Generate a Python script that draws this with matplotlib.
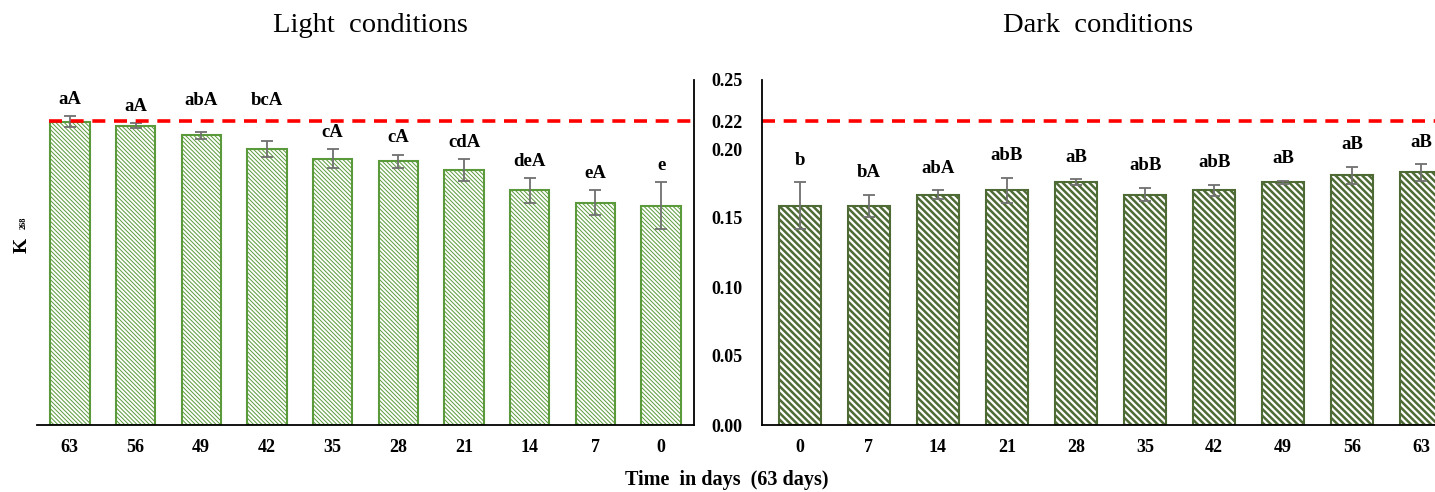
import matplotlib.pyplot as plt
import numpy as np

plt.rcParams['font.family'] = ['Liberation Serif', 'DejaVu Serif']

# Light conditions (days shown in reverse order)
light_days = ['63', '56', '49', '42', '35', '28', '21', '14', '7', '0']
light_k268 = [0.2196, 0.2170, 0.2100, 0.2000, 0.1930, 0.1910, 0.1850, 0.1700, 0.1610, 0.1590]
light_err = [0.004, 0.002, 0.0025, 0.006, 0.007, 0.005, 0.008, 0.009, 0.009, 0.017]
light_letters = ['aA', 'aA', 'abA', 'bcA', 'cA', 'cA', 'cdA', 'deA', 'eA', 'e']

# Dark conditions
dark_days = ['0', '7', '14', '21', '28', '35', '42', '49', '56', '63']
dark_k268 = [0.1590, 0.1590, 0.1670, 0.1700, 0.1760, 0.1670, 0.1700, 0.1760, 0.1810, 0.1830]
dark_err = [0.017, 0.008, 0.003, 0.009, 0.002, 0.005, 0.004, 0.001, 0.006, 0.006]
dark_letters = ['b', 'bA', 'abA', 'abB', 'aB', 'abB', 'abB', 'aB', 'aB', 'aB']

limit = 0.22
yticks = [0.00, 0.05, 0.10, 0.15, 0.20, 0.22, 0.25]

fig = plt.figure(figsize=(14.35, 4.92), dpi=100)
ax1 = fig.add_axes([37 / 1435, 67 / 492, 657 / 1435, 345 / 492])
ax2 = fig.add_axes([762 / 1435, 67 / 492, 673 / 1435, 345 / 492])


def draw_panel(ax, days, vals, errs, letters, color, hatch, hlw, gap):
    x = np.arange(len(days))
    bars = ax.bar(x, vals, width=0.6, color='white', edgecolor=color,
                  hatch=hatch, linewidth=1.5)
    for b in bars:
        if hasattr(b, 'set_hatch_linewidth'):
            b.set_hatch_linewidth(hlw)
    ax.errorbar(x, vals, yerr=errs, fmt='none', ecolor='#707070',
                elinewidth=1.3, capsize=4, capthick=1.3)
    for xi, v, e, lab in zip(x, vals, errs, letters):
        ty = v + e + gap
        # keep the letters clear of the dashed limit line
        if limit - 0.0075 < ty < limit + 0.0075:
            ty = limit + 0.0155
        ax.text(xi, ty, lab, ha='center', va='center',
                fontsize=13.5, fontweight='bold')
    ax.set_xticks(x)
    ax.set_xticklabels(days, fontsize=13, fontweight='bold')
    ax.tick_params(axis='x', length=0, pad=10)
    ax.set_ylim(0, 0.25)
    ax.spines['top'].set_visible(False)
    return x


plt.rcParams['hatch.linewidth'] = 0.7
draw_panel(ax1, light_days, light_k268, light_err, light_letters,
           '#5a9a3a', '\\' * 8, 0.7, 0.012)
plt.rcParams['hatch.linewidth'] = 1.8
draw_panel(ax2, dark_days, dark_k268, dark_err, dark_letters,
           '#4e6b35', '\\' * 5, 1.8, 0.016)

ax1.set_xlim(-0.5, 9.5)
ax1.spines['left'].set_visible(False)
ax1.spines['right'].set_linewidth(1.3)
ax1.spines['bottom'].set_linewidth(1.3)
ax1.set_yticks([])
ax1.axhline(limit, xmin=0.018, xmax=1, color='red', linewidth=2.6,
            dashes=(3.6, 2.4))

ax2.set_xlim(-0.55, 9.2)
ax2.spines['right'].set_visible(False)
ax2.spines['left'].set_linewidth(1.3)
ax2.spines['bottom'].set_linewidth(1.3)
ax2.set_yticks(yticks)
ax2.set_yticklabels(['%.2f' % t for t in yticks], fontsize=13, fontweight='bold')
ax2.tick_params(axis='y', length=0, pad=14)
ax2.axhline(limit, color='red', linewidth=2.6, dashes=(3.6, 2.4))

fig.text(370 / 1435, 1 - 25 / 492, 'Light  conditions', ha='center', va='center', fontsize=20.5)
fig.text(1098 / 1435, 1 - 25 / 492, 'Dark  conditions', ha='center', va='center', fontsize=20.5)
fig.text(727 / 1435, 1 - 480 / 492, 'Time  in days  (63 days)', ha='center', va='center',
         fontsize=14.5, fontweight='bold')

# y label K268 (rotated, small subscript)
fig.text(22 / 1435, 1 - 245 / 492, 'K', rotation=90, ha='center', va='center',
         fontsize=14, fontweight='bold')
fig.text(24 / 1435, 1 - 223 / 492, '268', rotation=90, ha='center', va='center',
         fontsize=6, fontweight='bold')

fig.savefig('out.png', dpi=100)
